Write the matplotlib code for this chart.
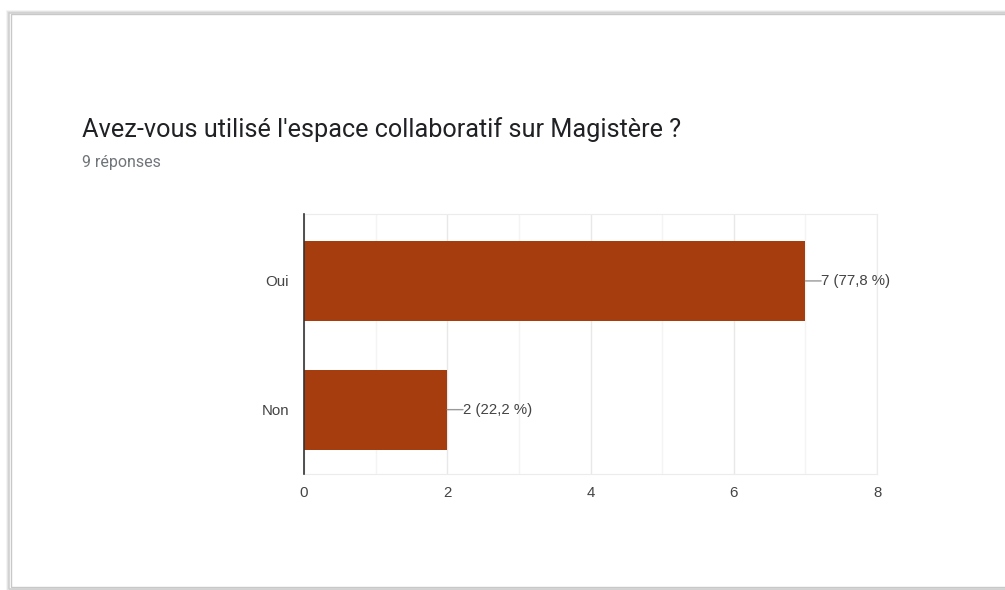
import matplotlib
matplotlib.use("Agg")
import matplotlib.pyplot as plt
from matplotlib.patches import Rectangle
from matplotlib.ticker import MultipleLocator

categories = ["Oui", "Non"]
counts = [7, 2]
labels = ["7 (77,8 %)", "2 (22,2 %)"]
title = "Avez-vous utilisé l'espace collaboratif sur Magistère ?"
subtitle = "9 réponses"
xticks = [0, 2, 4, 6, 8]

plt.rcParams['font.family'] = ['Roboto', 'DejaVu Sans']
chart_font = ['Liberation Sans', 'DejaVu Sans']

W, H = 1005, 590
fig = plt.figure(figsize=(W / 100, H / 100), dpi=100)
fig.patch.set_facecolor("white")

# card with shadow
for i, c in enumerate(["#f2f2f2", "#e0e0e0", "#cfcfcf"]):
    off = 3 - i
    fig.patches.append(Rectangle(((10 - off) / W, (2 - off) / H), (W + 20) / W, (574 + off * 2) / H,
                                 transform=fig.transFigure, facecolor="none",
                                 edgecolor=c, linewidth=1.2, zorder=-2))
fig.patches.append(Rectangle((11 / W, 3 / H), (W) / W, (573) / H,
                             transform=fig.transFigure, facecolor="white",
                             edgecolor="#c8c8c8", linewidth=1.0, zorder=-1))

fig.text(82 / W, 1 - 130 / H, title, fontsize=18.2, color="#202124", va="center", ha="left")
fig.text(82 / W, 1 - 163 / H, subtitle, fontsize=11.5, color="#70757a", va="center", ha="left")

ax = fig.add_axes([304 / W, 1 - 474 / H, (877 - 304) / W, (474 - 214) / H])
ax.set_zorder(2)
ax.set_facecolor("none")
ypos = list(range(len(categories)))
ax.barh(ypos, counts, height=0.62, color="#a63d0e", zorder=3)
ax.set_xlim(0, 8)
ax.set_ylim(1.5, -0.52)
ax.set_xticks(xticks)
ax.xaxis.set_minor_locator(MultipleLocator(1))
ax.set_yticks(ypos)
ax.set_yticklabels(categories)
ax.tick_params(axis="both", which="both", length=0, labelsize=10.8, colors="#444444")
ax.tick_params(axis="x", pad=8.5)
ax.tick_params(axis="y", pad=10.8)
for t in ax.get_xticklabels() + ax.get_yticklabels():
    t.set_family(chart_font)
ax.grid(axis="x", which="major", color="#e8e8e8", linewidth=1, zorder=0)
ax.grid(axis="x", which="minor", color="#f4f4f4", linewidth=1, zorder=0)
for s in ["top", "right", "bottom"]:
    ax.spines[s].set_color("#ececec")
ax.spines["left"].set_color("#333333")
ax.spines["left"].set_linewidth(1.2)
ax.spines["left"].set_zorder(4)

for y, v, lab in zip(ypos, counts, labels):
    ax.annotate("", xy=(v, y), xytext=(v + 0.22, y),
                arrowprops=dict(arrowstyle="-", color="#999999", lw=1, shrinkA=0, shrinkB=0))
    ax.text(v + 0.22, y, lab, fontsize=10.8, color="#444444", va="center", ha="left",
            family=chart_font)

fig.savefig("out.png", dpi=100)
